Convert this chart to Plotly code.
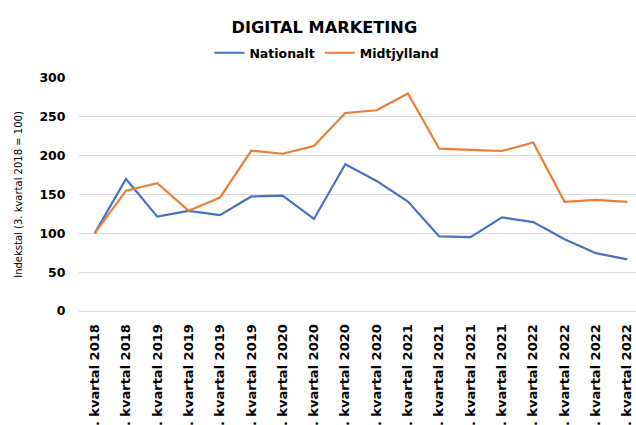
import plotly.graph_objects as go

categories = [
    "3. kvartal 2018", "4. kvartal 2018", "1. kvartal 2019", "2. kvartal 2019",
    "3. kvartal 2019", "4. kvartal 2019", "1. kvartal 2020", "2. kvartal 2020",
    "3. kvartal 2020", "4. kvartal 2020", "1. kvartal 2021", "2. kvartal 2021",
    "3. kvartal 2021", "4. kvartal 2021", "1. kvartal 2022", "2. kvartal 2022",
    "3. kvartal 2022", "4. kvartal 2022",
]
nationalt = [100, 170, 121.5, 129, 123.5, 147.5, 148.5, 118.5, 189, 167.5, 141, 96, 95, 120.5, 114.5, 92.5, 74.5, 66.5]
midtjylland = [100, 155, 164.5, 129, 146, 206.5, 202.5, 212.5, 255, 258.5, 280, 209, 207.5, 206, 217, 140.5, 143, 140.5]

FONT = "DejaVu Sans"

fig = go.Figure()
fig.add_trace(go.Scatter(x=categories, y=nationalt, mode="lines", name="Nationalt",
                         line=dict(color="#4472C4", width=2.2)))
fig.add_trace(go.Scatter(x=categories, y=midtjylland, mode="lines", name="Midtjylland",
                         line=dict(color="#ED7D31", width=2.2)))

fig.update_layout(
    width=636, height=425,
    margin=dict(l=79, r=0, t=78, b=114, autoexpand=False),
    paper_bgcolor="white", plot_bgcolor="white",
    font=dict(family=FONT, color="#000000"),
    title=dict(text="<b>DIGITAL MARKETING</b>", x=0.51, xref="container", xanchor="center",
               y=0.936, yref="container", yanchor="middle",
               font=dict(size=16.2, family=FONT, color="#000000")),
    legend=dict(orientation="h", x=0.514, xref="container", xanchor="center",
                y=0.875, yref="container", yanchor="middle",
                font=dict(size=12.5, family=FONT, color="#000000", weight="bold"),
                itemwidth=30, tracegroupgap=0, bgcolor="rgba(0,0,0,0)"),
    showlegend=True,
)
fig.update_xaxes(
    type="category", range=[-0.5, 17.28], tickangle=-90,
    tickfont=dict(size=13, family=FONT, color="#000000", weight="bold"),
    showgrid=False, showline=False, zeroline=False,
    ticks="outside", ticklen=7, tickcolor="rgba(0,0,0,0)",
)
fig.update_yaxes(
    range=[0, 300], dtick=50, showgrid=True, gridcolor="#d9d9d9", gridwidth=1,
    zeroline=True, zerolinecolor="#d9d9d9", zerolinewidth=1, showline=False,
    tickfont=dict(size=12.5, family=FONT, color="#000000", weight="bold"),
    ticks="outside", ticklen=10, tickcolor="rgba(0,0,0,0)",
    title=dict(text="Indekstal (3. kvartal 2018 = 100)", standoff=14,
               font=dict(size=10, family=FONT, color="#000000")),
)

fig.write_html(
    "out.html",
    config={"displayModeBar": False},
    post_script="document.body.style.margin='0';document.body.style.overflow='hidden';",
)
